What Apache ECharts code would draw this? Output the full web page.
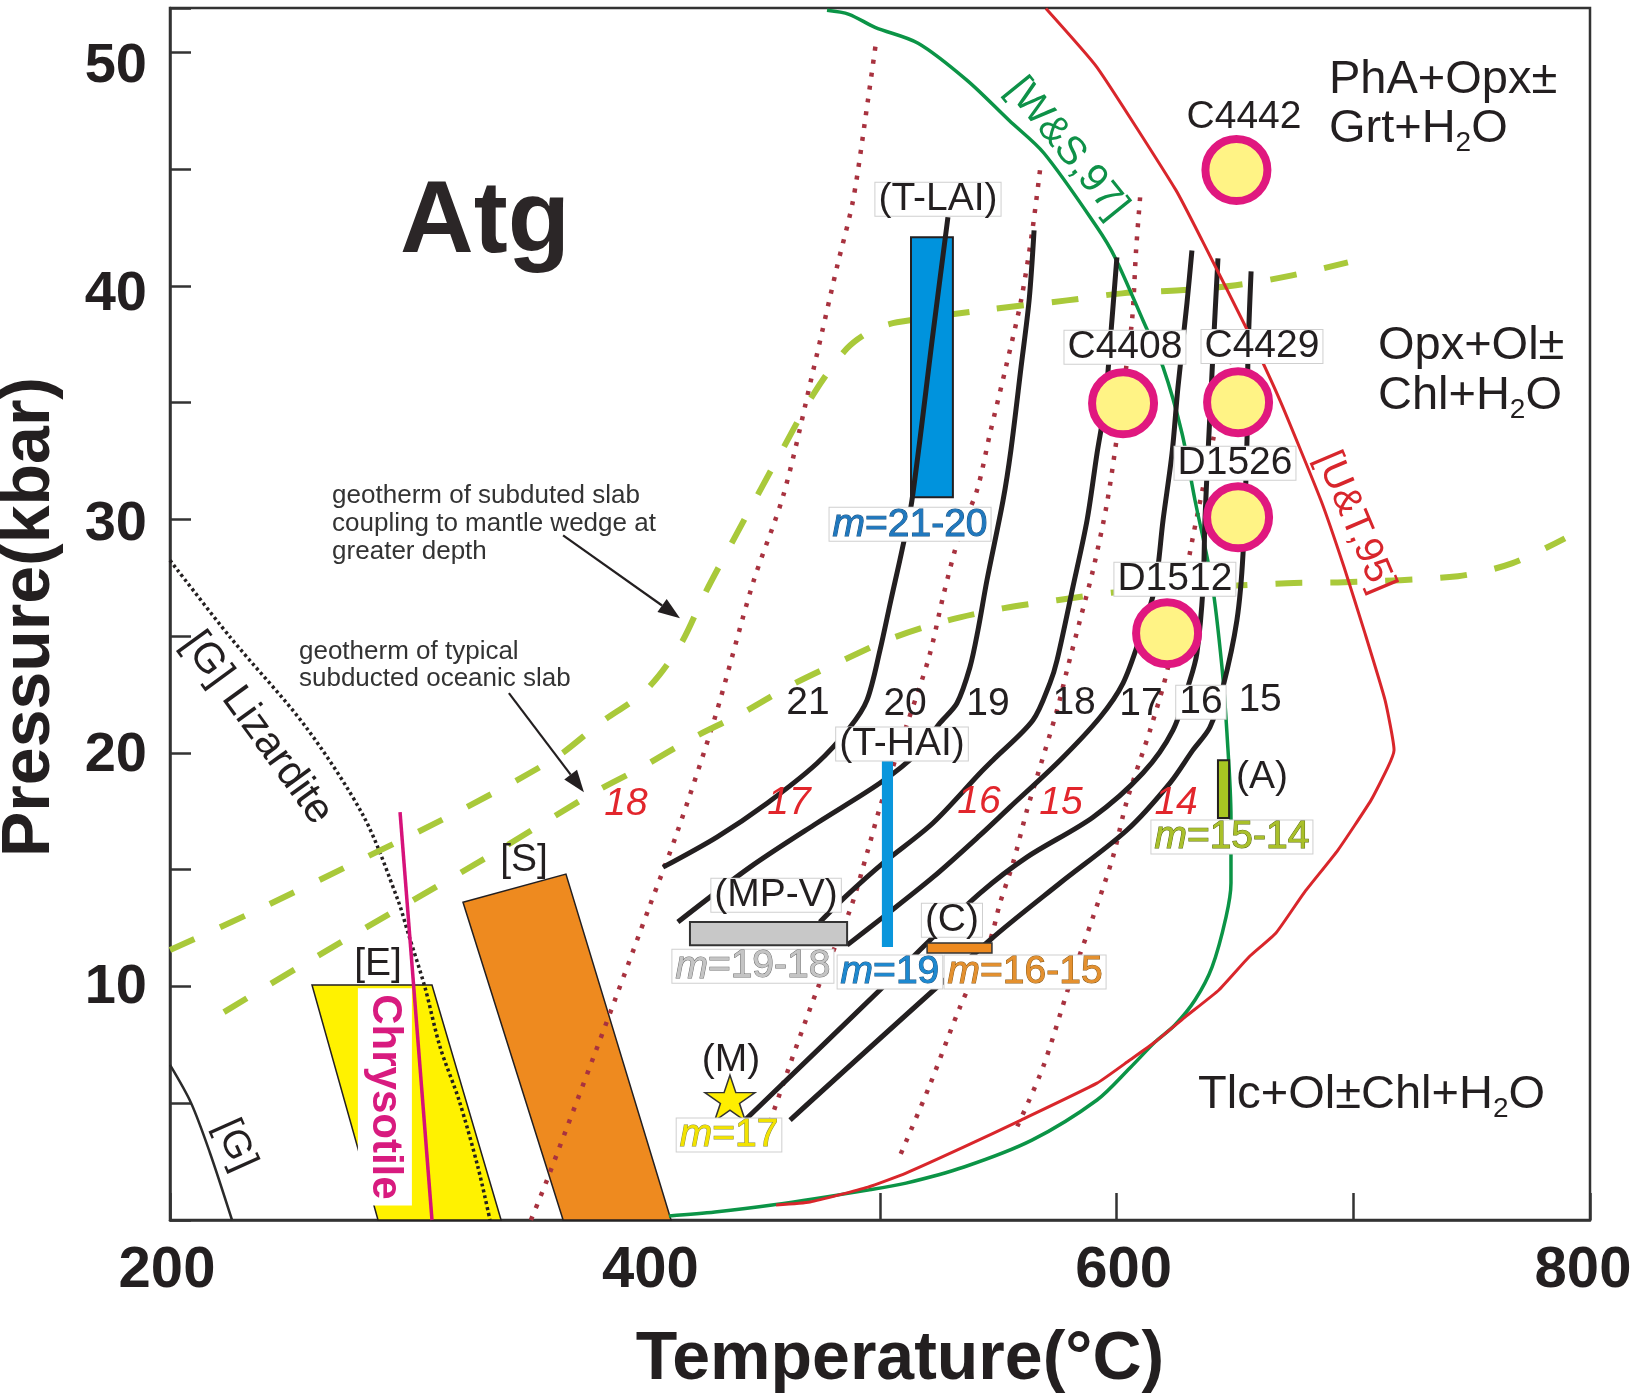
<!DOCTYPE html>
<html>
<head>
<meta charset="utf-8">
<title>Antigorite P-T diagram</title>
<script src="https://cdn.jsdelivr.net/npm/echarts@6.0.0/dist/echarts.min.js"></script>
<style>
html,body{margin:0;padding:0;background:#ffffff;}
#chart{width:1632px;height:1397px;}
</style>
</head>
<body>
<div id="chart"></div>
<script>
// ================= DATA (T in °C, P in kbar) =================
const tempRange = [200, 800];
const tempTickStep = 100;
const tempTickLabels = [200, 400, 600, 800];
const presRange = [0, 51.9];
const presTickStep = 5;
const presTickLabels = [10, 20, 30, 40, 50];

// Atg-out boundary [W&S,97]
const wsCurve = [[477.6,51.80],[486.9,51.63],[497.9,51.07],[516.1,50.39],[536.8,48.80],[554.5,47.09],[569.3,45.68],[591.7,42.51],[599.3,41.22],[611.1,38.53],[619.6,36.52],[627.6,33.69],[633.1,30.82],[640.3,27.27],[644.5,23.67],[646.6,20.85],[648.3,17.25],[648.3,14.43],[646.2,12.97],[640.3,10.83],[633.1,9.42],[624.6,8.35],[616.2,7.62],[605.6,6.51],[591.7,5.14],[564.2,3.42],[535.5,2.27],[511.0,1.58],[494.9,1.28],[454.4,0.64],[430.3,0.34],[410.8,0.17]];
// Atg-out boundary [U&T,95]
const utCurve = [[570.1,51.88],[591.7,49.36],[625.1,44.09],[636.1,41.95],[654.6,38.23],[669.0,35.10],[686.3,30.82],[696.1,27.95],[704.9,25.13],[713.4,22.26],[717.2,20.12],[714.6,19.39],[707.5,17.98],[693.5,15.84],[679.1,14.00],[667.3,12.29],[655.9,11.26],[643.2,9.85],[628.9,8.69],[616.2,7.62],[605.6,6.85],[591.7,5.86],[559.6,4.28],[535.5,3.13],[511.0,2.01],[494.9,1.41],[470.4,0.77],[456.1,0.64]];

// antigorite m-isopleths (black)
const iso21 = [[408.3,15.11],[431.1,16.40],[452.3,17.85],[473.4,19.56],[487.3,21.10],[494.5,22.26],[500.0,24.40],[504.6,26.54],[509.3,28.68],[513.5,30.82],[522.4,37.97],[528.7,42.94]];
const iso20 = [[414.6,12.76],[445.1,15.11],[473.4,17.00],[500.0,18.71],[515.6,19.99],[525.3,21.28],[532.5,22.13],[538.0,23.67],[541.4,25.26],[545.2,27.40],[552.0,30.82],[555.3,32.96],[559.6,36.52],[563.0,39.38],[565.1,42.38]];
const iso19 = [[474.6,12.76],[486.1,13.91],[501.3,15.28],[522.4,17.00],[542.3,19.14],[547.7,19.69],[564.6,21.40],[571.8,22.99],[574.8,23.97],[581.5,27.10],[587.5,29.97],[591.7,32.83],[595.1,34.97],[598.0,38.53],[600.1,41.22]];
const iso18 = [[486.1,11.77],[501.3,12.97],[522.4,14.68],[542.3,16.48],[554.9,17.68],[576.1,19.69],[593.0,21.53],[602.7,22.99],[609.9,24.96],[616.2,27.10],[619.6,29.97],[623.4,32.83],[625.9,35.66],[629.7,39.26],[631.8,41.52]];
const iso17 = [[443.0,4.28],[503.0,10.15],[519.9,11.86],[542.3,14.00],[562.1,15.54],[590.0,17.25],[611.1,19.14],[623.8,20.98],[631.0,23.12],[633.9,24.27],[636.5,27.10],[637.3,29.97],[638.6,32.83],[640.7,37.11],[642.8,41.18]];
const iso16 = [[462.0,4.28],[546.5,11.99],[576.1,14.43],[604.4,16.70],[622.5,18.71],[632.2,20.12],[639.4,21.10],[644.9,22.82],[650.8,25.68],[653.4,28.55],[655.1,33.52],[655.5,37.11],[656.8,40.62]];

// dotted isopleths (red numbers)
const dot1 = [[352.5,0],[359.3,1.71],[388.0,9.42],[402.8,13.48],[414.2,16.57],[430.3,21.53],[446.3,27.27],[459.4,31.12],[472.1,36.52],[481.8,40.80],[488.6,43.66],[494.9,47.95],[498.3,50.43]];
const dot2 = [[567.6,44.95],[564.2,42.25],[559.6,39.38],[553.2,36.52],[546.5,33.69],[541.0,31.25],[533.8,29.41],[527.0,26.84],[520.7,24.10],[511.0,21.10],[500.0,17.68],[494.9,15.84],[487.3,13.27],[473.4,9.85],[454.8,4.58],[451.4,3.42]];
const dot3 = [[609.9,43.79],[608.2,41.52],[606.5,38.53],[602.7,35.53],[600.1,33.52],[595.9,30.69],[590.0,27.83],[584.5,25.68],[579.0,23.54],[574.8,21.83],[566.3,18.96],[562.1,17.55],[556.2,15.28],[550.7,13.57],[546.5,11.99],[533.8,9.12],[520.7,5.69],[508.0,2.65]];
const dot4 = [[647.8,36.82],[640.7,33.39],[636.5,31.38],[632.2,29.24],[621.7,23.67],[614.5,21.10],[604.4,17.98],[598.4,15.54],[590.0,12.97],[580.3,10.15],[568.9,6.55],[557.9,3.98]];

// serpentine boundaries
const lizardite = [[200,28.25],[225.4,24.96],[257.5,21.10],[282.0,17.25],[296.3,13.70],[300.6,12.29],[307.7,9.97],[314.1,7.41],[322.1,5.14],[330.1,2.27],[335.2,0]];
const gBoundary = [[200,6.64],[208.9,5.01],[216.9,2.87],[226.2,0]];
const chrysotileLine = [[297.2,17.47],[310.7,0]];

// geotherms
const geothermCoupled = [[200,11.56],[235.1,13.19],[277.7,15.28],[320.4,17.42],[362.7,19.78],[381.7,21.28],[401.1,22.69],[415.5,24.61],[426.1,26.84],[437.5,29.02],[448.9,31.16],[458.6,32.96],[472.1,35.40],[486.1,37.33],[496.6,38.10],[507.2,38.44],[543.5,38.96],[579.0,39.38],[602.3,39.68],[626.8,39.81],[650.4,40.03],[674.1,40.45],[697.7,41.01]];
const geothermTypical = [[222.8,8.90],[253.7,10.79],[295.5,13.27],[336.9,15.71],[378.7,18.28],[399.4,19.39],[420.6,20.63],[441.7,21.70],[462.4,22.90],[484.4,23.97],[506.3,24.96],[528.7,25.68],[552.4,26.20],[574.8,26.54],[600.1,26.88],[672.0,27.27],[696.1,27.31],[744.2,27.57],[767.0,28.12],[789.4,29.19]];

// fields
const regionE = [[260.0,10.06],[310.7,10.06],[339.9,0],[287.9,0]];
const regionS = [[323.8,13.61],[367.3,14.81],[411.7,0],[366.1,0]];
// estimate boxes [Tmin, Tmax, Pmin, Pmax]
const boxTLAI = [513.1,530.8,30.95,42.08];
const barTHAI = [500.8,505.5,11.69,19.69];
const boxMPV = [419.7,486.1,11.77,12.76];
const barC = [519.9,547.3,11.43,11.86];
const barA = [642.8,647.5,17.21,19.69];

// samples
const sampleNames = ['C4442','C4408','C4429','D1526','D1512'];
const sampleT = [650.6,602.7,651.3,651.3,621.3];
const sampleP = [44.96,34.97,35.02,30.09,25.13];
const starM = [436.6,5.22];

// annotation arrows [from, to]
const arrows = [[[366.1,29.32],[415.5,25.77]],[[343.2,22.56],[374.9,18.32]]];

// text annotations: [T, P, text, style, rotation]
const notes = [
  [333.1,42.64,'Atg','atg'],
  [653.8,47.22,'C4442','plain'],
  [603.5,37.37,'C4408','box'],
  [661.4,37.41,'C4429','box'],
  [650.0,32.41,'D1526','box'],
  [624.6,27.44,'D1512','box'],
  [689.7,48.80,'PhA+Opx±','phase'],
  [689.7,46.70,'Grt+H{s|2}O','phase'],
  [710.4,37.41,'Opx+Ol±','phase'],
  [710.4,35.27,'Chl+H{s|2}O','phase'],
  [634.4,5.35,'Tlc+Ol±Chl+H{s|2}O','phase'],
  [524.5,43.71,'(T-LAI)','box'],
  [512.7,29.79,'{i|m}{n|=21-20}','mBlue'],
  [509.3,20.38,'(T-HAI)','box'],
  [456.1,13.91,'(MP-V)','box'],
  [446.3,10.87,'{i|m}{n|=19-18}','mGray'],
  [504.2,10.62,'{i|m}{n|=19}','mBlue2'],
  [530.4,12.84,'(C)','box'],
  [561.3,10.62,'{i|m}{n|=16-15}','mOrange'],
  [437.0,6.85,'(M)','plain'],
  [436.2,3.64,'{i|m}{n|=17}','mYellow'],
  [661.4,18.96,'(A)','plain'],
  [648.7,16.40,'{i|m}{n|=15-14}','mLime'],
  [469.6,22.13,'21','plain'],
  [510.6,22.09,'20','plain'],
  [545.6,22.09,'19','plain'],
  [582.0,22.13,'18','plain'],
  [610.3,22.09,'17','plain'],
  [635.6,22.17,'16','box'],
  [660.6,22.26,'15','plain'],
  [392.7,17.81,'18','red'],
  [461.5,17.85,'17','red'],
  [541.8,17.89,'16','red'],
  [576.5,17.85,'15','red'],
  [625.1,17.85,'14','red'],
  [579.0,45.89,'[W&S,97]','green',-51],
  [700.7,29.88,'[U&T,95]','redRef',-67],
  [236.8,21.06,'[G] Lizardite','plain42',-54],
  [227.5,3.21,'[G]','plain',-66],
  [287.9,10.96,'[E]','plain'],
  [349.6,15.41,'[S]','plain'],
  [290.8,5.27,'Chrysotile','chry',-90],
  [268.5,30.99,'geotherm of subduted slab','note'],
  [268.5,29.79,'coupling to mantle wedge at','note'],
  [268.5,28.60,'greater depth','note'],
  [254.5,24.32,'geotherm of typical','note'],
  [254.5,23.16,'subducted oceanic slab','note']
];

// ================= STYLE =================
const FONT = "'Liberation Sans', Arial, Helvetica, sans-serif";
const INK = '#231f20';
const xLabelShift = {200:-3, 400:7, 600:7, 800:-7};
const yLabelShift = {10:1, 20:3, 30:5, 40:9, 50:14};

const base = {fontFamily: FONT, color: INK, fontSize: 39, opacity: 1, textBorderWidth: 0, textBorderColor: 'transparent', textShadowBlur: 0};
const boxed = {backgroundColor:'#ffffff', borderColor:'#cfcfcf', borderWidth:1, padding:[1,3,0,3], lineHeight:32};
function mStyle(color, stroke) {
  const t = {fontFamily:FONT, fontSize:39, lineHeight:32, color:color, textBorderColor:stroke, textBorderWidth:1};
  return Object.assign({}, base, boxed, {rich:{i:Object.assign({fontStyle:'italic'}, t), n:t}});
}
const styles = {
  plain: base,
  plain42: Object.assign({}, base, {fontSize:42}),
  box: Object.assign({}, base, boxed),
  atg: Object.assign({}, base, {fontSize:102, fontWeight:'bold', color:'#2b2627'}),
  phase: Object.assign({}, base, {fontSize:47, lineHeight:56, align:'left',
          rich:{s:{fontFamily:FONT, fontSize:28, lineHeight:28, verticalAlign:'bottom', color:INK, textBorderWidth:0}}}),
  red: Object.assign({}, base, {color:'#e2262c', fontStyle:'italic'}),
  green: Object.assign({}, base, {color:'#0e9148', fontSize:40}),
  redRef: Object.assign({}, base, {color:'#d8262c'}),
  chry: Object.assign({}, base, {fontSize:42, fontWeight:'bold', color:'#d81b7f', backgroundColor:'#ffffff', padding:[6,6,2,6], lineHeight:46}),
  note: Object.assign({}, base, {fontSize:26, color:'#333333', align:'left'}),
  mBlue: mStyle('#2078be','#17507f'),
  mBlue2: mStyle('#1d88cf','#17507f'),
  mGray: mStyle('#c4c4c4','#6e6e6e'),
  mOrange: mStyle('#e4902e','#8a5a1a'),
  mYellow: mStyle('#f2e300','#8a8a40'),
  mLime: mStyle('#a9c02a','#5a6a10')
};

function lineSeries(data, color, width, type, z, smooth) {
  return {type:'line', data:data, showSymbol:false, symbol:'none', smooth: smooth === undefined ? 0.3 : smooth,
    silent:true, z:z, animation:false, clip:false,
    lineStyle:{color:color, width:width, type:type || 'solid', cap:'butt', join:'round'},
    emphasis:{disabled:true}};
}
function rectPoly(b) { return [[b[0],b[2]],[b[1],b[2]],[b[1],b[3]],[b[0],b[3]]]; }
function polySeries(polys, polyStyles, z) {
  return {type:'custom', z:z, silent:true, animation:false,
    data: polys.map(function(p){ return p[0]; }),
    renderItem: function(params, api) {
      return {type:'polygon', shape:{points: polys[params.dataIndex].map(function(pt){ return api.coord(pt); })},
              style: polyStyles[params.dataIndex]};
    }};
}

const xRich = {}, yRich = {};
tempTickLabels.forEach(function(v){
  const d = xLabelShift[v] || 0;
  xRich['t'+v] = {fontFamily:FONT, fontSize:58, fontWeight:'bold', color:INK, lineHeight:60,
                  padding: d >= 0 ? [0,0,0,2*d] : [0,-2*d,0,0]};
});
presTickLabels.forEach(function(v){
  const d = yLabelShift[v] || 0;
  yRich['p'+v] = {fontFamily:FONT, fontSize:56, fontWeight:'bold', color:INK, lineHeight:58, padding:[2*d,0,0,0]};
});

const axisLineStyle = {color:'#333333', width:2.5};

const series = [
  polySeries([regionE, regionS], [
    {fill:'#fff200', stroke:'#231f20', lineWidth:1.5},
    {fill:'#ee8a1f', stroke:'#231f20', lineWidth:1.5}], 1),
  lineSeries(lizardite, '#231f20', 3.5, [3,3], 2, 0.3),
  lineSeries(gBoundary, '#2a2a2a', 2.5, 'solid', 2, 0.3),
  lineSeries(dot1, '#a8323f', 4.5, [4,9], 2, 0.3),
  lineSeries(dot2, '#a8323f', 4.5, [4,9], 2, 0.3),
  lineSeries(dot3, '#a8323f', 4.5, [4,9], 2, 0.3),
  lineSeries(dot4, '#a8323f', 4.5, [4,9], 2, 0.3),
  lineSeries(geothermCoupled, '#a9c93a', 6, [27,28], 3, 0.3),
  lineSeries(geothermTypical, '#a9c93a', 6, [27,28], 3, 0.3),
  polySeries([rectPoly(boxTLAI)], [{fill:'#0093dd', stroke:'#231f20', lineWidth:2}], 4),
  lineSeries(wsCurve, '#0b9446', 3.5, 'solid', 5, 0.3),
  lineSeries(utCurve, '#d9262b', 3, 'solid', 5.5, 0.15),
  lineSeries(iso21, INK, 5, 'solid', 5, 0.3),
  lineSeries(iso20, INK, 5, 'solid', 5, 0.3),
  lineSeries(iso19, INK, 5, 'solid', 5, 0.3),
  lineSeries(iso18, INK, 5, 'solid', 5, 0.3),
  lineSeries(iso17, INK, 5, 'solid', 5, 0.3),
  lineSeries(iso16, INK, 5, 'solid', 5, 0.3),
  polySeries([rectPoly(barTHAI), rectPoly(boxMPV), rectPoly(barC), rectPoly(barA)], [
    {fill:'#0a96dc'},
    {fill:'#c8c8c8', stroke:'#333333', lineWidth:2},
    {fill:'#ee8a1f', stroke:'#333333', lineWidth:1.5},
    {fill:'#a8c522', stroke:'#231f20', lineWidth:2}], 6),
  {type:'custom', z:5, silent:true, animation:false,
    data: arrows.map(function(a){ return a[0]; }),
    renderItem: function(params, api) {
      const a = arrows[params.dataIndex];
      const p0 = api.coord(a[0]), p1 = api.coord(a[1]);
      const dx = p1[0]-p0[0], dy = p1[1]-p0[1], L = Math.sqrt(dx*dx+dy*dy);
      const ux = dx/L, uy = dy/L, hl = 22, hw = 8;
      const b = [p1[0]-ux*hl, p1[1]-uy*hl];
      return {type:'group', children:[
        {type:'line', shape:{x1:p0[0], y1:p0[1], x2:b[0], y2:b[1]}, style:{stroke:INK, lineWidth:2.2}},
        {type:'polygon', shape:{points:[p1, [b[0]-uy*hw, b[1]+ux*hw], [b[0]+uy*hw, b[1]-ux*hw]]}, style:{fill:INK}}
      ]};
    }},
  {type:'scatter', z:7, silent:true, animation:false,
    data: sampleT.map(function(t,i){ return {name:sampleNames[i], value:[t, sampleP[i]]}; }),
    symbol:'circle', symbolSize:62,
    itemStyle:{color:'#fff385', borderColor:'#e0187f', borderWidth:8, opacity:1},
    emphasis:{disabled:true}},
  {type:'scatter', z:7, silent:true, animation:false, data:[starM],
    symbol:'path://M50,0L61.2,34.5L97.6,34.5L68.2,55.9L79.4,90.5L50,69.1L20.6,90.5L31.8,55.9L2.4,34.5L38.8,34.5Z',
    symbolSize:[50,46], itemStyle:{color:'#ffee00', borderColor:'#333333', borderWidth:1.5, opacity:1},
    emphasis:{disabled:true}},
  {type:'scatter', z:10, silent:true, animation:false, symbolSize:1,
    itemStyle:{color:'rgba(0,0,0,0)', opacity:1},
    labelLayout:{hideOverlap:false},
    emphasis:{disabled:true},
    data: notes.map(function(n){
      return {value:[n[0], n[1]],
        label: Object.assign({show:true, position:'inside', formatter:n[2], rotate:n[4] || 0}, styles[n[3]])};
    })},
  lineSeries(chrysotileLine, '#d6127a', 3.5, 'solid', 11, 0)
];

const option = {
  animation:false,
  backgroundColor:'#ffffff',
  grid:{left:170, right:42, top:8, bottom:177, show:true, borderColor:'#333333', borderWidth:2.5,
        containLabel:false, outerBoundsMode:'none'},
  xAxis:{type:'value', min:tempRange[0], max:tempRange[1], interval:tempTickStep,
    axisLine:{show:true, onZero:false, lineStyle:axisLineStyle},
    axisTick:{show:true, inside:true, length:27, lineStyle:axisLineStyle},
    splitLine:{show:false},
    axisLabel:{show:true, margin:21, showMinLabel:true, showMaxLabel:true, hideOverlap:false,
      fontFamily:FONT, fontSize:58, fontWeight:'bold', color:INK,
      formatter:function(v){ const r = Math.round(v); return (Math.abs(v-r)<1e-6 && tempTickLabels.indexOf(r) >= 0) ? '{t'+r+'|'+r+'}' : ''; },
      rich:xRich}},
  yAxis:{type:'value', min:presRange[0], max:presRange[1], interval:presTickStep,
    axisLine:{show:true, onZero:false, lineStyle:axisLineStyle},
    axisTick:{show:true, inside:true, length:21, lineStyle:axisLineStyle},
    splitLine:{show:false},
    axisLabel:{show:true, margin:23, showMinLabel:true, showMaxLabel:true, hideOverlap:false,
      fontFamily:FONT, fontSize:56, fontWeight:'bold', color:INK,
      formatter:function(v){ const r = Math.round(v); return (Math.abs(v-r)<1e-6 && presTickLabels.indexOf(r) >= 0) ? '{p'+r+'|'+r+'}' : ''; },
      rich:yRich}},
  graphic:[
    {type:'text', x:900, y:1360, silent:true, z:20,
     style:{text:'Temperature(°C)', fontFamily:FONT, fontSize:68, fontWeight:'bold', fill:INK, align:'center', verticalAlign:'middle'}},
    {type:'text', x:30, y:617, rotation:Math.PI/2, silent:true, z:20,
     style:{text:'Pressure(kbar)', fontFamily:FONT, fontSize:68, fontWeight:'bold', fill:INK, align:'center', verticalAlign:'middle'}}
  ],
  series:series
};

const chart = echarts.init(document.getElementById('chart'), null, {renderer:'canvas', width:1632, height:1397});
chart.setOption(option);
</script>
</body>
</html>
